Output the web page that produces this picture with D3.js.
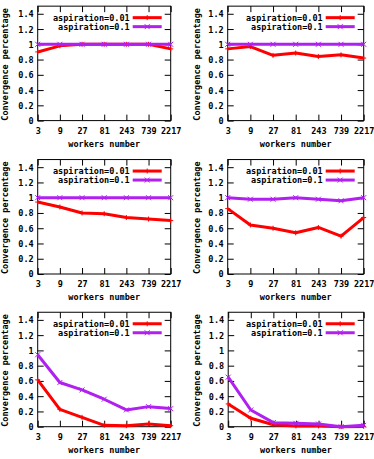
<!DOCTYPE html>
<html><head><meta charset="utf-8">
<script src="https://cdn.jsdelivr.net/npm/d3@7"></script>
<style>
html,body{margin:0;padding:0;background:#fff;}
text{font-family:"DejaVu Sans Mono",monospace;font-size:8.5px;font-weight:bold;fill:#000;}
</style></head>
<body><svg id="c" width="374" height="459"></svg>
<script>
const workers = ["3","9","27","81","243","739","2217"];
const yTicks = [0,0.2,0.4,0.6,0.8,1,1.2,1.4];
const seriesNames = ["aspiration=0.01","aspiration=0.1"];
const p1_a001 = [0.90,0.98,1.0,1.0,1.0,1.0,0.94];
const p1_a01  = [1,1,1,1,1,1,1];
const p2_a001 = [0.94,0.97,0.855,0.885,0.84,0.862,0.82];
const p2_a01  = [1,1,1,1,1,1,1];
const p3_a001 = [0.943,0.878,0.80,0.79,0.74,0.72,0.70];
const p3_a01  = [1,1,1,1,1,1,1];
const p4_a001 = [0.857,0.643,0.60,0.54,0.61,0.496,0.74];
const p4_a01  = [1.0,0.98,0.98,1.0,0.98,0.96,1.0];
const p5_a001 = [0.614,0.228,0.123,0.018,0.013,0.035,0.013];
const p5_a01  = [0.943,0.579,0.482,0.36,0.22,0.263,0.237];
const p6_a001 = [0.298,0.11,0.026,0.01,0.01,0.0,0.004];
const p6_a01  = [0.649,0.219,0.053,0.044,0.035,0.0,0.018];

const panels = [
  {a:p1_a001,b:p1_a01,x0:37.7,x1:170.7,y0:120.6,ylx:5},
  {a:p2_a001,b:p2_a01,x0:227.7,x1:363.7,y0:120.6,ylx:197},
  {a:p3_a001,b:p3_a01,x0:37.7,x1:170.7,y0:274,ylx:5},
  {a:p4_a001,b:p4_a01,x0:227.7,x1:363.7,y0:274,ylx:197},
  {a:p5_a001,b:p5_a01,x0:37.7,x1:170.7,y0:426.7,ylx:5},
  {a:p6_a001,b:p6_a01,x0:228.2,x1:363.7,y0:426.7,ylx:197}
];
const colors = ["#ff0000","#b020f0"];
const svg = d3.select("#c");
const fmt = d => d3.format(".1~f")(d);

panels.forEach(p => {
  const top = p.y0 - 1.5*76.3;
  const x = d3.scalePoint().domain(workers).range([p.x0,p.x1]).padding(0);
  const y = d3.scaleLinear().domain([0,1.5]).range([p.y0,top]);
  const g = svg.append("g");
  const ax = (sel)=>{sel.select(".domain").remove(); sel.selectAll("line").attr("stroke","#000");};
  g.append("g").attr("transform",`translate(${p.x0},0)`)
    .call(d3.axisLeft(y).tickValues(yTicks).tickFormat(fmt).tickSize(-6).tickPadding(4)).call(ax)
    .selectAll("text").attr("dy","0.35em");
  g.append("g").attr("transform",`translate(${p.x1},0)`)
    .call(d3.axisRight(y).tickValues(yTicks).tickFormat("").tickSize(-6)).call(ax);
  g.append("g").attr("transform",`translate(0,${p.y0})`)
    .call(d3.axisBottom(x).tickSize(-6).tickPadding(7)).call(ax);
  g.append("g").attr("transform",`translate(0,${top})`)
    .call(d3.axisTop(x).tickFormat("").tickSize(-6)).call(ax);
  g.selectAll("g").attr("font-family",null).attr("font-size",null);
  g.append("rect").attr("x",p.x0).attr("y",top).attr("width",p.x1-p.x0).attr("height",p.y0-top)
    .attr("fill","none").attr("stroke","#000").attr("stroke-width",1);

  const line = d3.line().x((d,i)=>x(workers[i])).y(d=>y(d));
  const marker = (m,k,cx,cy)=>{
    if(k===0) m.attr("d",`M${cx-2.5},${cy}H${cx+2.5}M${cx},${cy-2.5}V${cy+2.5}`);
    else m.attr("d",`M${cx-2.5},${cy-2.5}L${cx+2.5},${cy+2.5}M${cx-2.5},${cy+2.5}L${cx+2.5},${cy-2.5}`);
  };
  [p.a,p.b].forEach((s,k)=>{
    g.append("path").datum(s).attr("d",line).attr("fill","none")
      .attr("stroke",colors[k]).attr("stroke-width",3).attr("stroke-linejoin","round");
    s.forEach((v,i)=>{
      const m = g.append("path").attr("stroke",colors[k]).attr("stroke-width",1).attr("fill","none");
      marker(m,k,x(workers[i]),y(v));
    });
  });
  seriesNames.forEach((n,k)=>{
    const ly = top + 11.5 + k*9;
    g.append("text").attr("x",p.x1-41).attr("y",ly).attr("dy","0.35em").attr("text-anchor","end").text(n);
    g.append("line").attr("x1",p.x1-38).attr("x2",p.x1-9).attr("y1",ly).attr("y2",ly)
      .attr("stroke",colors[k]).attr("stroke-width",3);
    const m = g.append("path").attr("stroke",colors[k]).attr("stroke-width",1).attr("fill","none");
    marker(m,k,p.x1-23.5,ly);
  });
  g.append("text").attr("x",(p.x0+p.x1)/2).attr("y",p.y0+23.5).attr("dy","0.35em")
    .attr("text-anchor","middle").text("workers number");
  g.append("text").attr("transform",`translate(${p.ylx},${(p.y0+top)/2+1}) rotate(-90)`)
    .attr("dy","0.35em").attr("text-anchor","middle").text("Convergence percentage");
});
</script></body></html>
